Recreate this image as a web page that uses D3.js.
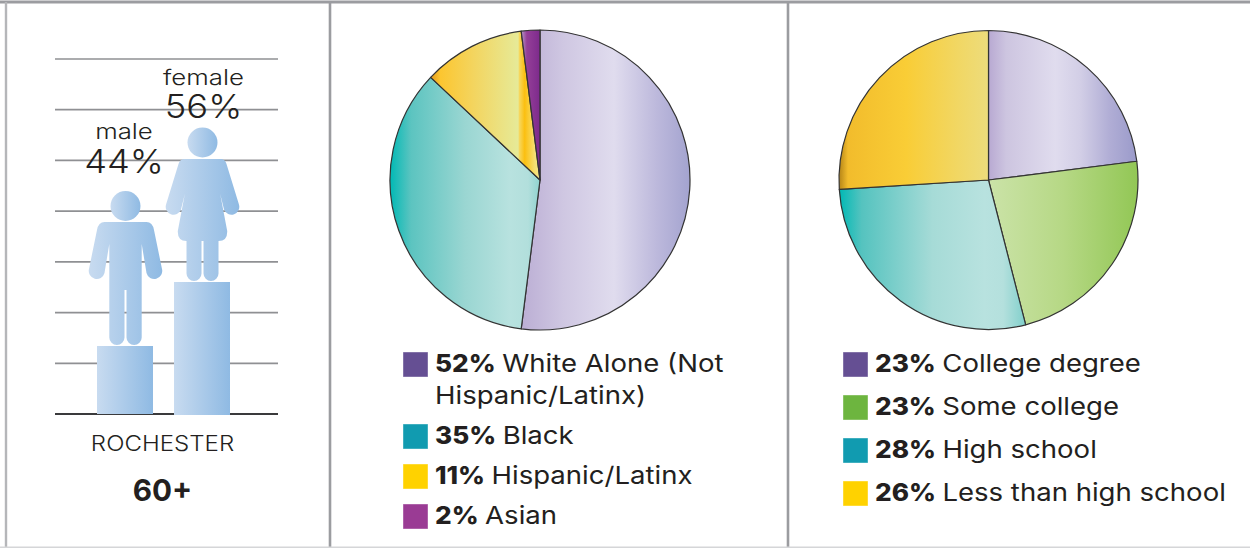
<!DOCTYPE html>
<html><head><meta charset="utf-8">
<script src="https://cdn.jsdelivr.net/npm/d3@7"></script>
<style>html,body{margin:0;padding:0;background:#fff}svg{display:block}text{font-family:Inter,"Open Sans",sans-serif;fill:#231f20}</style>
</head><body><svg id="c" width="1250" height="548"></svg>
<script>
const genderLabels = ["male", "female"];
const genderValues = [44, 56];
const gridRows = [0, 1, 2, 3, 4, 5, 6, 7];
const raceLabels = ["White Alone (Not|Hispanic/Latinx)", "Black", "Hispanic/Latinx", "Asian"];
const raceValues = [52, 35, 11, 2];
const raceColors = ["#654f93", "#119bb0", "#ffd200", "#9a3b94"];
const eduLabels = ["College degree", "Some college", "High school", "Less than high school"];
const eduValues = [23, 23, 28, 26];
const eduColors = ["#654f93", "#6db53f", "#119bb0", "#ffd200"];
const raceGradients = [
  [[0,"#bbaed4"],[.25,"#cfc7e2"],[.55,"#e0dcee"],[.8,"#bdb9dc"],[1,"#a3a3cf"]],
  [[0,"#00b9b5"],[.14,"#5cc4c0"],[.5,"#9ad6d2"],[.8,"#b8e2df"],[.92,"#b2dfdc"],[1,"#8fd3cf"]],
  [[0,"#e39a1a"],[.09,"#fcc630"],[.4,"#f3d560"],[.8,"#e6ea98"],[.81,"#f6d860"],[.86,"#fbbf10"],[.95,"#f6df70"],[1,"#f7e88f"]],
  [[0,"#b79ac8"],[.3,"#943f98"],[1,"#7d2a8c"]]
];
const eduGradients = [
  [[0,"#b8a9d2"],[.12,"#cdc5e0"],[.45,"#e0dcee"],[.62,"#d2cee6"],[.82,"#b0add5"],[1,"#9a9aca"]],
  [[0,"#cbe3a8"],[.5,"#b6d885"],[1,"#92c755"]],
  [[0,"#00b9b5"],[.12,"#55c3bf"],[.5,"#a6dbd7"],[.78,"#b8e2df"],[.88,"#b4e0dd"],[1,"#80cfcb"]],
  [[0,"#b58417"],[.06,"#f2bc2c"],[.45,"#f9cd36"],[.8,"#f1d764"],[1,"#eddc7c"]]
];

const svg = d3.select("#c");
const defs = svg.append("defs");
function grad(id, stops){
  const g = defs.append("linearGradient").attr("id", id).attr("x1",0).attr("x2",1).attr("y1",0).attr("y2",0);
  stops.forEach(s => g.append("stop").attr("offset", s[0]).attr("stop-color", s[1]));
  return `url(#${id})`;
}
const blue = grad("blue", [[0,"#c8dbf0"],[1,"#8fbae3"]]);

function label(x, y, str, size, weight, anchor, k){
  return svg.append("text")
    .attr("transform", `translate(${x},${y}) scale(${k},1)`)
    .attr("font-size", size).attr("font-weight", weight||400)
    .attr("text-anchor", anchor||"start").text(str);
}

// frame
const frame = [[0,2,1250,2,"#9b9ca0",3],[6,2,6,548,"#b5b6b9",2.4],[330,2,330,548,"#9b9ca0",2.6],[788,2,788,548,"#9b9ca0",2.6],[0,547.4,1250,547.4,"#d5d6d8",1.6]];
svg.selectAll("line.f").data(frame).join("line").attr("class","f")
  .attr("x1",d=>d[0]).attr("y1",d=>d[1]).attr("x2",d=>d[2]).attr("y2",d=>d[3]).attr("stroke",d=>d[4]).attr("stroke-width",d=>d[5]);

// gender panel
const gridY = d3.scaleLinear().domain([0,7]).range([414,59]);
const base = 414;
const yVal = d3.scaleLinear().domain([44,56]).range([346,282]);
const xBand = d3.scaleBand().domain(genderLabels).range([97,230]).paddingInner(0.273).paddingOuter(0);
svg.selectAll("line.g").data(gridRows).join("line").attr("class","g")
  .attr("x1",55).attr("x2",278).attr("y1",d=>gridY(d)).attr("y2",d=>gridY(d))
  .attr("stroke",d=>d===0?"#3a3a3c":"#8f9093").attr("stroke-width",d=>d===0?2:1.7);
svg.selectAll("rect.b").data(genderValues).join("rect").attr("class","b")
  .attr("x",(d,i)=>xBand(genderLabels[i])).attr("width",xBand.bandwidth())
  .attr("y",d=>yVal(d)).attr("height",(d,i)=>base+i-yVal(d)).attr("fill",blue);

const icons = {
  male: {head:-139, path:"M-21,-123 L21,-123 Q27,-123 28.5,-115 L36.5,-76 A8,8 0 0 1 21,-72 L16.2,-101 L16.2,-7.6 A7.6,7.6 0 0 1 1,-7.6 L1,-55 L-1,-55 L-1,-7.6 A7.6,7.6 0 0 1 -16.2,-7.6 L-16.2,-101 L-21,-72 A8,8 0 0 1 -36.5,-76 L-28.5,-115 Q-27,-123 -21,-123 Z"},
  female: {head:-138.5, path:"M-18,-122 L18,-122 Q22.5,-122 24,-117 L36.3,-77 A7.8,7.8 0 0 1 21.5,-71.5 L17.7,-87 L24.7,-50 Q25,-40 16,-40 L16,-7.5 A7.5,7.5 0 0 1 1,-7.5 L1,-40 L-1,-40 L-1,-7.5 A7.5,7.5 0 0 1 -16,-7.5 L-16,-40 Q-25,-40 -24.7,-50 L-17.7,-87 L-21.5,-71.5 A7.8,7.8 0 0 1 -36.3,-77 L-24,-117 Q-22.5,-122 -18,-122 Z"}
};
genderLabels.forEach((name,i)=>{
  const cx = xBand(name)+xBand.bandwidth()/2+.5, top = yVal(genderValues[i])-1;
  const g = svg.append("g").attr("transform",`translate(${cx},${top})`);
  g.append("circle").attr("cy",icons[name].head).attr("r",15).attr("fill",blue);
  g.append("path").attr("d",icons[name].path).attr("fill",blue);
  const tx = cx + (i===0?-1.5:1);
  label(tx, top-(i===0?206:196), name, 21.5, 350, "middle", 1.2);
  label(tx, top-(i===0?172:163), genderValues[i]+"%", 33, 300, "middle", 1.1);
});
label(162.5, 451, "ROCHESTER", 21.5, 350, "middle", 1.12);
label(162.5, 501, "60+", 30, 700, "middle", 0.99);

// pies
function pie(cx, cy, r, values, gradients, prefix){
  const arcs = d3.pie().sort(null).value(d=>d)(values);
  const arc = d3.arc().innerRadius(0).outerRadius(r);
  svg.append("g").attr("transform",`translate(${cx},${cy})`)
    .selectAll("path").data(arcs).join("path").attr("d",arc)
    .attr("fill",(d,i)=>grad(prefix+i,gradients[i]))
    .attr("stroke","#333").attr("stroke-width",1.2).attr("stroke-linejoin","round");
}
pie(540,180,150,raceValues,raceGradients,"r");
pie(988.5,180,149.5,eduValues,eduGradients,"e");

// legends
function legend(swX, txtX, tops, values, labels, colors){
  const boldK = 1.09, textK = 1.125, size = 24.5, gap = 6.5;
  values.forEach((v,i)=>{
    const y = tops[i];
    svg.append("rect").attr("x",swX).attr("y",y).attr("width",25).attr("height",25)
      .attr("fill",colors[i]).attr("stroke","#fff").attr("stroke-opacity",.5).attr("stroke-width",.8);
    const lines = labels[i].split("|");
    const b = label(txtX, y+20, v+"%", 24, 800, "start", boldK);
    const end = txtX + b.node().getComputedTextLength()*boldK + gap;
    label(end, y+20, lines[0], size, 400, "start", textK);
    if(lines[1]) label(txtX, y+52, lines[1], size, 400, "start", textK);
  });
}
legend(403,435,[352,424,464,504],raceValues,raceLabels,raceColors);
legend(843,875,[352,395,438,481],eduValues,eduLabels,eduColors);
</script></body></html>
